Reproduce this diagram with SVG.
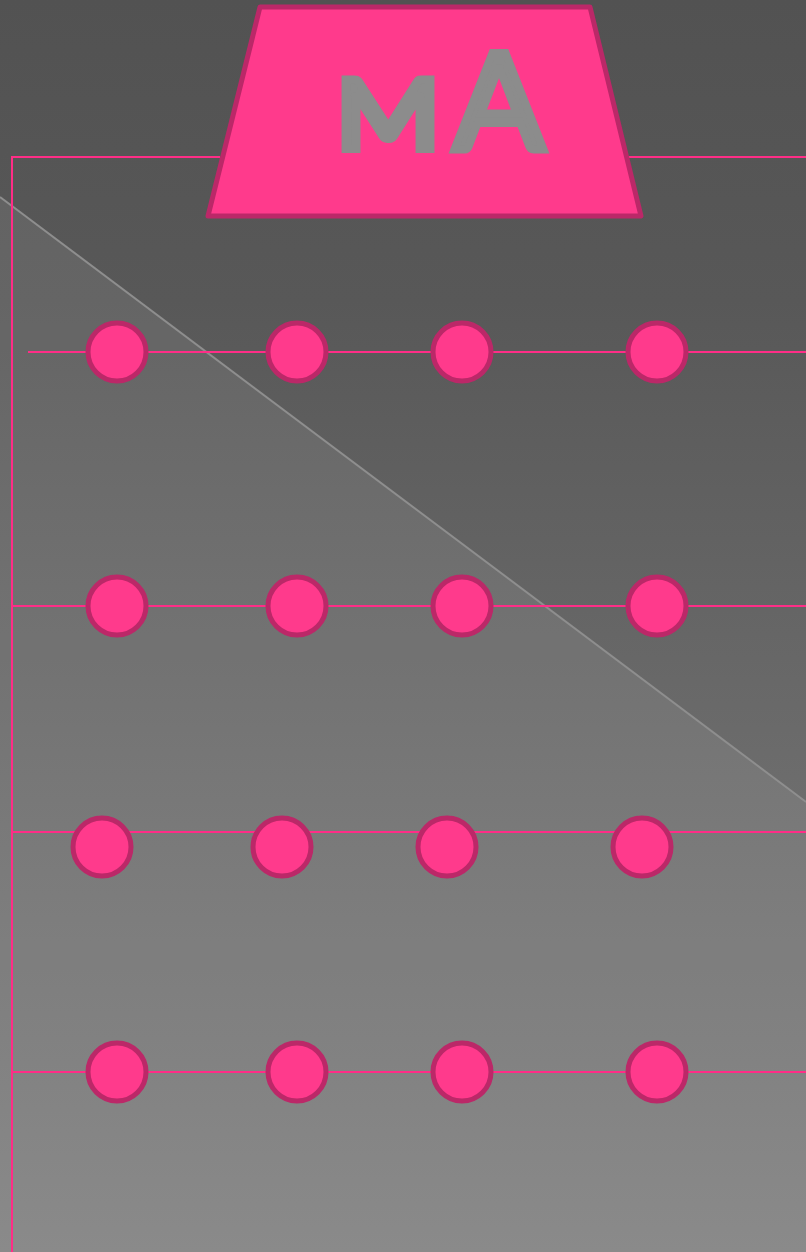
<svg xmlns="http://www.w3.org/2000/svg" width="806" height="1252" viewBox="0 0 806 1252">
<defs>
<linearGradient id="bg" gradientUnits="userSpaceOnUse" x1="0" y1="0" x2="0" y2="1252">
<stop offset="0" stop-color="#525252"/>
<stop offset="0.24" stop-color="#585858"/>
<stop offset="1" stop-color="#808080"/>
</linearGradient>
<style>
.wire{stroke:#ff2d87;stroke-width:2;fill:none}
.dot{fill:#ff3a8c;stroke:#bb2868;stroke-width:5}
.lbl{font-family:Lato,"Open Sans",sans-serif;font-weight:400;fill:#8c8c8c;stroke:#8c8c8c;stroke-width:8;stroke-linejoin:miter}
</style>
</defs>
<rect width="806" height="1252" fill="url(#bg)"/>
<polygon points="0,197 806,802 806,1252 0,1252" fill="#ffffff" fill-opacity="0.08"/>
<line x1="0" y1="197" x2="806" y2="802" stroke="#8e8e8e" stroke-width="2"/>
<g id="connectors">
<polyline class="wire" points="220,157 12,157 12,1252"/>
<line class="wire" x1="628" y1="157" x2="806" y2="157"/>
<line class="wire" x1="28" y1="352" x2="806" y2="352"/>
<line class="wire" x1="12" y1="606" x2="806" y2="606"/>
<line class="wire" x1="12" y1="832" x2="806" y2="832"/>
<line class="wire" x1="12" y1="1072" x2="806" y2="1072"/>
</g>
<g id="meter">
<polygon points="260,7 590,7 641,216 208,216" fill="#ff3a8c" stroke="#bb2868" stroke-width="5" stroke-linejoin="round"/>
<text class="lbl" x="336" y="149" font-size="96" textLength="104" lengthAdjust="spacingAndGlyphs">M</text>
<text class="lbl" x="454" y="149" font-size="134" textLength="90" lengthAdjust="spacingAndGlyphs">A</text>
</g>
<g id="row1">
<circle class="dot" cx="117" cy="352" r="29"/>
<circle class="dot" cx="297" cy="352" r="29"/>
<circle class="dot" cx="462" cy="352" r="29"/>
<circle class="dot" cx="657" cy="352" r="29"/>
</g>
<g id="row2">
<circle class="dot" cx="117" cy="606" r="29"/>
<circle class="dot" cx="297" cy="606" r="29"/>
<circle class="dot" cx="462" cy="606" r="29"/>
<circle class="dot" cx="657" cy="606" r="29"/>
</g>
<g id="row3">
<circle class="dot" cx="102" cy="847" r="29"/>
<circle class="dot" cx="282" cy="847" r="29"/>
<circle class="dot" cx="447" cy="847" r="29"/>
<circle class="dot" cx="642" cy="847" r="29"/>
</g>
<g id="row4">
<circle class="dot" cx="117" cy="1072" r="29"/>
<circle class="dot" cx="297" cy="1072" r="29"/>
<circle class="dot" cx="462" cy="1072" r="29"/>
<circle class="dot" cx="657" cy="1072" r="29"/>
</g>
</svg>
